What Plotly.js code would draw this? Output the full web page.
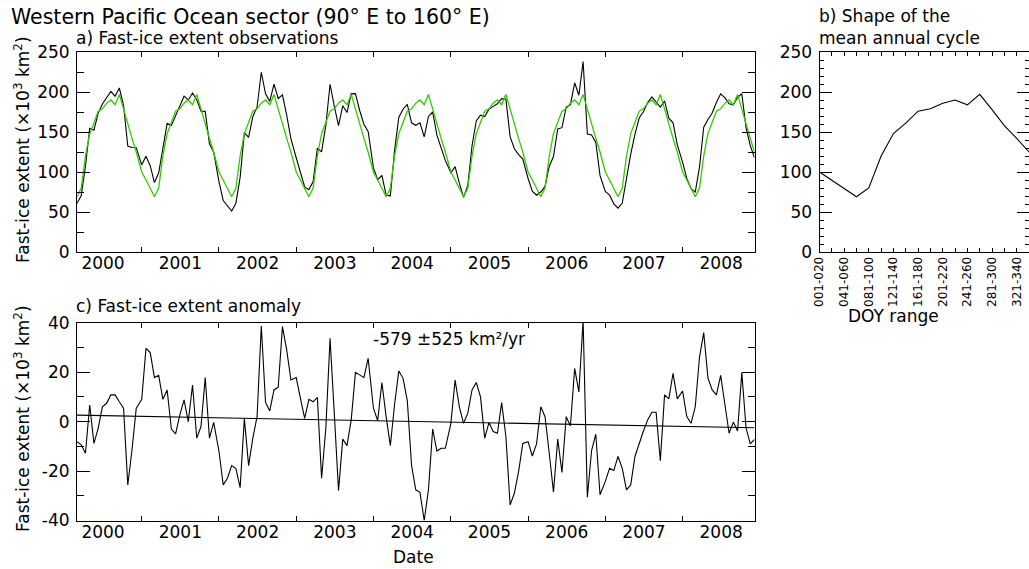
<!DOCTYPE html>
<html>
<head>
<meta charset="utf-8">
<script src="https://cdn.plot.ly/plotly-3.0.1.min.js"></script>
<style>
  html, body { margin: 0; padding: 0; background: #ffffff; }
  #chart { width: 1029px; height: 569px; }
</style>
</head>
<body>
<div id="chart"></div>
<script>
// 20-day composite periods (day-of-year ranges)
const doyRanges = ['001-020', '021-040', '041-060', '061-080', '081-100', '101-120',
                   '121-140', '141-160', '161-180', '181-200', '201-220', '221-240',
                   '241-260', '261-280', '281-300', '301-320', '321-340', '341-360'];

// Mean annual cycle of fast-ice extent (x10^3 km^2), one value per period
const meanCycle = [100, 90, 80, 69, 80, 120, 148, 161, 176, 179, 186, 190, 184, 197, 178, 158, 142, 125];

// Fast-ice extent anomaly (x10^3 km^2) per year; 2000 begins at period 061-080
const years = [2000, 2001, 2002, 2003, 2004, 2005, 2006, 2007, 2008];
const anom2000 = [-8.1, -9.4, -12.8, 6.7, -8.8, -2.7, 6.0, 7.4, 10.8, 10.8, 8.0, 5.4, -25.6, -11.4, 5.4];
const anom2001 = [9.0, 29.6, 27.9, 17.8, 18.7, 9.0, 12.8, -3.0, -5.0, 2.7, 8.8, 0.0, 14.8, -6.7, -2.0, 17.8, -6.7, -0.3];
const anom2002 = [-12.0, -25.6, -22.9, -17.8, -19.0, -26.7, 1.3, -17.8, -6.7, 2.0, 38.7, 7.8, 4.3, 12.8, 13.9, 38.4, 29.0, 16.8];
const anom2003 = [17.8, 9.4, 1.3, 9.0, 8.0, 9.8, -22.9, -2.7, 33.7, 3.4, -27.9, -7.1, -9.7, 0.7, 19.9, 18.9, 17.8, 25.6];
const anom2004 = [5.4, 0.4, 15.8, 2.0, -9.7, 7.0, 20.5, 17.5, 8.5, -17.5, -27.6, -28.6, -40.0, -27.6, -3.0, -11.9, -10.8, -10.8];
const anom2005 = [-0.7, 16.8, 6.0, -0.7, 3.4, 12.8, 15.8, 10.0, -6.7, -0.4, -4.0, -4.7, 7.7, -6.0, -33.7, -29.0, -20.2, -8.8];
const anom2006 = [-8.1, -13.9, -9.0, 6.0, 2.0, -12.8, -28.6, -7.1, -20.6, 2.0, -1.8, 21.5, 12.0, 41.0, -30.6, -11.7, -5.1, -29.6];
const anom2007 = [-24.2, -18.9, -19.8, -14.1, -18.9, -27.6, -25.6, -14.1, -8.5, -3.8, 0.7, 3.8, 3.8, -15.8, 10.8, 9.2, 19.5, 9.2];
const anom2008 = [12.4, 2.0, -0.7, 6.0, 26.0, 36.0, 17.6, 12.8, 10.8, 18.7, 7.0, -4.7, -0.2, -3.8, 19.8, -2.5, -9.0, -7.2];
const anomalyByYear = [anom2000, anom2001, anom2002, anom2003, anom2004, anom2005, anom2006, anom2007, anom2008];

// Linear trend of the anomaly
const trendRate = -579;      // km^2 per year
const trendError = 525;      // km^2 per year
const trendAtStart = 2.6;    // x10^3 km^2 at the first composite

// Axis tick labels
const yTicksExtent = [0, 50, 100, 150, 200, 250];
const yTicksAnom = [-40, -20, 0, 20, 40];

// ---- build the time series ----
const periodStart = doyRanges.map(r => parseInt(r.slice(0, 3), 10));
const dates = [], decYear = [], anomaly = [], observed = [], cycleRepeated = [];
years.forEach((yr, i) => {
  const a = anomalyByYear[i];
  const first = periodStart.length - a.length;
  const daysInYear = (yr % 4 === 0) ? 366 : 365;
  a.forEach((v, j) => {
    const k = first + j;
    const d = new Date(Date.UTC(yr, 0, periodStart[k]));
    dates.push(d.toISOString().slice(0, 10));
    decYear.push(yr + (periodStart[k] - 1) / daysInYear);
    anomaly.push(v);
    observed.push(+(meanCycle[k] + v).toFixed(1));
    cycleRepeated.push(meanCycle[k]);
  });
});
const last = dates.length - 1;
const trendX = [dates[0], dates[last]];
const trendY = [trendAtStart, trendAtStart + trendRate / 1000 * (decYear[last] - decYear[0])];

// Period index for the annual-cycle panel; every other range is labelled
const periodIndex = doyRanges.map((_, i) => i);
const labelledIndex = periodIndex.filter(i => i % 2 === 0);

// ---- styling helpers ----
const W = 1029, H = 569;
const px = x => x / W;
const py = y => 1 - y / H;
const FONT = 'DejaVu Sans, Verdana, sans-serif';
const BLACK = '#000000';
const GREEN = '#35c800';
const tickFont = { family: FONT, size: 17, color: BLACK };

const frame = {
  showline: true, linecolor: BLACK, linewidth: 1, mirror: 'ticks',
  showgrid: false, zeroline: false, ticks: 'inside', tickcolor: BLACK,
  tickwidth: 1, tickfont: tickFont, fixedrange: true
};

const dateAxis = (anchor) => Object.assign({}, frame, {
  type: 'date', anchor: anchor,
  domain: [px(77), px(754.5)],
  range: [dates[0], dates[last]],
  tick0: '2000-01-01', dtick: 'M12', tickformat: '%Y',
  ticklabelmode: 'period', ticklen: 5, ticklabelstandoff: -4
});

const traces = [
  { x: dates, y: observed, xaxis: 'x', yaxis: 'y', mode: 'lines',
    line: { color: BLACK, width: 1.1 }, name: 'Observed' },
  { x: dates, y: cycleRepeated, xaxis: 'x', yaxis: 'y', mode: 'lines',
    line: { color: GREEN, width: 1.3 }, name: 'Mean cycle' },
  { x: periodIndex, y: meanCycle, xaxis: 'x2', yaxis: 'y2', mode: 'lines',
    line: { color: BLACK, width: 1.1 }, name: 'Mean annual cycle' },
  { x: dates, y: anomaly, xaxis: 'x3', yaxis: 'y3', mode: 'lines',
    line: { color: BLACK, width: 1.1 }, name: 'Anomaly' },
  { x: trendX, y: trendY, xaxis: 'x3', yaxis: 'y3', mode: 'lines',
    line: { color: BLACK, width: 1.1 }, name: 'Trend' }
];

const textStyle = (size) => ({ family: FONT, size: size, color: BLACK });
const note = (text, x, y, opts) => Object.assign({
  text: text, xref: 'paper', yref: 'paper', x: px(x), y: py(y),
  xanchor: 'left', yanchor: 'middle', showarrow: false, align: 'left',
  font: textStyle(17), borderpad: 0
}, opts || {});

const yTitle = 'Fast-ice extent (×10<sup>3</sup> km<sup>2</sup>)';

const layout = {
  width: W, height: H,
  margin: { l: 0, r: 0, t: 0, b: 0, pad: 0 },
  paper_bgcolor: '#ffffff', plot_bgcolor: '#ffffff',
  showlegend: false,
  font: { family: FONT, color: BLACK },

  xaxis: dateAxis('y'),
  yaxis: Object.assign({}, frame, {
    anchor: 'x', domain: [py(252), py(52)], range: [0, 250],
    tickmode: 'array', tickvals: yTicksExtent, ticktext: yTicksExtent.map(String),
    ticklen: 13, ticklabelstandoff: 3,
    minor: { tickmode: 'linear', tick0: 0, dtick: 25, ticks: 'inside', ticklen: 7, tickcolor: BLACK }
  }),

  xaxis2: Object.assign({}, frame, {
    anchor: 'y2', domain: [px(819.5), 1],
    range: [0, doyRanges.length - 1],
    tickmode: 'array', tickvals: labelledIndex,
    ticktext: labelledIndex.map(i => doyRanges[i]),
    tickangle: -90, ticklen: 4, ticklabelstandoff: -1,
    minor: { tickmode: 'linear', tick0: 0, dtick: 1, ticks: 'inside', ticklen: 4, tickcolor: BLACK },
    tickfont: { family: FONT, size: 12, color: BLACK }
  }),
  yaxis2: Object.assign({}, frame, {
    anchor: 'x2', domain: [py(252), py(52)], range: [0, 250],
    tickmode: 'array', tickvals: yTicksExtent, ticktext: yTicksExtent.map(String),
    ticklen: 12, ticklabelstandoff: 3,
    minor: { tickmode: 'linear', tick0: 0, dtick: 10, ticks: 'inside', ticklen: 4, tickcolor: BLACK }
  }),

  xaxis3: dateAxis('y3'),
  yaxis3: Object.assign({}, frame, {
    anchor: 'x3', domain: [py(520.5), py(322.7)], range: [-40, 40],
    tickmode: 'array', tickvals: yTicksAnom, ticktext: yTicksAnom.map(String),
    ticklen: 13, ticklabelstandoff: 3,
    minor: { tickmode: 'linear', tick0: 0, dtick: 10, ticks: 'inside', ticklen: 7, tickcolor: BLACK }
  }),

  annotations: [
    note('Western Pacific Ocean sector (90° E to 160° E)', 10, 17, { font: textStyle(20.5) }),
    note('a) Fast-ice extent observations', 75, 38),
    note('b) Shape of the<br>mean annual cycle', 818, 27),
    note('c) Fast-ice extent anomaly', 75, 306),
    note(trendRate + ' ±' + trendError + ' km²/yr', 372, 339),
    note(yTitle, 22, 150, { xanchor: 'center', textangle: -90, align: 'center' }),
    note(yTitle, 22, 419, { xanchor: 'center', textangle: -90, align: 'center' }),
    note('Date', 413, 557, { xanchor: 'center', align: 'center' }),
    note('DOY range', 893, 316, { xanchor: 'center', align: 'center' })
  ]
};

Plotly.newPlot('chart', traces, layout, { staticPlot: true, displayModeBar: false });
</script>
</body>
</html>
